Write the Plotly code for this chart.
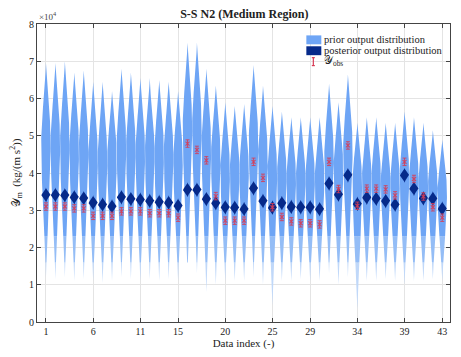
import numpy as np
import plotly.graph_objects as go

# ---------------- data (values in units of 1e4) ----------------
data_index = list(range(1, 44))
prior_top = [6.95, 6.95, 7.0, 6.7, 6.75, 6.45, 6.45, 6.2, 6.8, 6.7,
             6.55, 6.55, 6.5, 6.45, 6.2, 7.5, 7.5, 6.8, 6.35, 5.9,
             5.8, 5.85, 6.9, 6.35, 5.8, 5.65, 5.5, 5.5, 5.5, 5.5,
             6.4, 5.9, 6.65, 5.35, 5.5, 5.5, 5.35, 5.35, 5.65, 5.5,
             5.35, 5.15, 4.9]
prior_mode = [4.85, 4.85, 4.85, 4.7, 4.7, 4.45, 4.45, 4.45, 4.8, 4.7,
              4.6, 4.6, 4.6, 4.6, 4.4, 5.3, 5.3, 4.8, 4.5, 4.1,
              4.1, 4.1, 4.9, 4.5, 4.1, 4.0, 3.9, 3.9, 3.9, 3.9,
              4.5, 4.2, 4.7, 3.8, 3.9, 3.9, 3.8, 3.8, 4.0, 3.9,
              3.8, 3.7, 3.5]
prior_bottom = [1.2, 1.15, 1.2, 1.1, 1.15, 1.1, 1.05, 1.1, 1.2, 1.15,
                1.1, 1.15, 1.1, 1.15, 1.1, 1.3, 1.3, 0.8, 1.0, 1.1,
                1.1, 1.1, 1.2, 1.0, 0.45, 1.1, 1.1, 1.15, 1.1, 1.1,
                1.3, 1.0, 1.2, 0.35, 1.1, 1.1, 1.15, 1.1, 1.0, 1.1,
                1.1, 1.15, 1.1]
post_mean = [3.41, 3.41, 3.40, 3.35, 3.32, 3.20, 3.15, 3.10, 3.35, 3.30,
             3.28, 3.25, 3.22, 3.20, 3.12, 3.55, 3.55, 3.30, 3.19, 3.08,
             3.07, 3.03, 3.59, 3.25, 3.07, 3.19, 3.09, 3.08, 3.08, 3.03,
             3.72, 3.42, 3.94, 3.17, 3.34, 3.31, 3.25, 3.15, 3.94, 3.58,
             3.32, 3.31, 3.04]
obs_val = [3.10, 3.10, 3.10, 3.05, 3.05, 2.85, 2.85, 2.85, 2.97, 2.97,
           2.97, 2.92, 2.92, 2.92, 2.80, 4.79, 4.62, 4.34, 3.38, 2.72,
           2.72, 2.72, 4.30, 3.87, 3.08, 2.82, 2.70, 2.65, 2.65, 2.62,
           4.30, 3.57, 4.74, 3.12, 3.58, 3.58, 3.56, 3.40, 4.30, 3.84,
           3.37, 3.08, 2.80]
OBS_ERR = 0.1
xtick_vals = [1, 6, 11, 15, 20, 25, 29, 34, 39, 43]
ytick_vals = [0, 1, 2, 3, 4, 5, 6, 7, 8]
legend_labels = ["prior output distribution", "posterior output distribution",
                 "𝒴<sub>obs</sub>"]

# ---------------- styling ----------------
PRIOR_W = 0.5
POST_W = 0.52
POST_H = 0.2
C_PRIOR = "#6ea5f5"
C_PRIOR_FADE1 = "#94bdf6"
C_PRIOR_FADE2 = "#c0d8f9"
C_POST = "#062a8a"
C_OBS = "rgba(215,60,85,0.85)"
C_OBS_SOLID = "#d73c55"
FONT = "Liberation Serif, DejaVu Serif, serif"


def prior_halfwidth(y, b, m, t):
    out = np.zeros_like(y)
    up = y >= m
    su = (t - m) / 2.0
    gt = np.exp(-2.0)
    out[up] = PRIOR_W * (np.exp(-0.5 * ((y[up] - m) / su) ** 2) - gt) / (1 - gt)
    sl = (m - b) / 1.7
    gb = np.exp(-0.5 * 1.7 ** 2)
    out[~up] = PRIOR_W * (np.exp(-0.5 * ((y[~up] - m) / sl) ** 2) - gb) / (1 - gb)
    return np.clip(out, 0, None)


def band_paths(ylo_fn, yhi_fn):
    xs, ys = [], []
    for k, i in enumerate(data_index):
        b, m, t = prior_bottom[k], prior_mode[k], prior_top[k]
        lo, hi = ylo_fn(b, t), yhi_fn(b, t)
        if hi <= lo:
            continue
        yy = np.linspace(lo, hi, 60)
        w = prior_halfwidth(yy, b, m, t)
        xs += list(i + w) + list(i - w[::-1]) + [None]
        ys += list(yy) + list(yy[::-1]) + [None]
    return xs, ys


fig = go.Figure()

# prior violins (main body + faded lower tail)
bands = [
    (lambda b, t: b, lambda b, t: min(1.6, t), C_PRIOR_FADE2),
    (lambda b, t: max(b, 1.6), lambda b, t: min(2.3, t), C_PRIOR_FADE1),
    (lambda b, t: max(b, 2.3), lambda b, t: t, C_PRIOR),
]
for lo_fn, hi_fn, col in bands:
    xs, ys = band_paths(lo_fn, hi_fn)
    fig.add_trace(go.Scatter(x=xs, y=ys, mode="lines", fill="toself",
                             fillcolor=col, line=dict(width=0, color=col),
                             hoverinfo="skip", showlegend=False))

# posterior violins
xs, ys = [], []
for k, i in enumerate(data_index):
    m = post_mean[k]
    yy = np.linspace(m - POST_H, m + POST_H, 41)
    w = POST_W * np.clip(1 - np.abs(yy - m) / POST_H, 0, None) ** 1.4
    xs += list(i + w) + list(i - w[::-1]) + [None]
    ys += list(yy) + list(yy[::-1]) + [None]
fig.add_trace(go.Scatter(x=xs, y=ys, mode="lines", fill="toself",
                         fillcolor=C_POST, line=dict(width=0, color=C_POST),
                         hoverinfo="skip", showlegend=False))

# observations
fig.add_trace(go.Scatter(
    x=data_index, y=obs_val, mode="markers",
    marker=dict(symbol="x-thin", size=4, line=dict(width=1.2, color=C_OBS), color=C_OBS),
    error_y=dict(type="constant", value=OBS_ERR, color=C_OBS, thickness=1, width=2),
    showlegend=False))

axis_common = dict(showline=True, linecolor="#444", linewidth=1, mirror="ticks",
                   ticks="inside", ticklen=4, tickcolor="#444",
                   showgrid=True, gridcolor="#e4e4e4", gridwidth=1, zeroline=False,
                   tickfont=dict(family=FONT, size=10, color="#222"))


# custom compact legend (paper coords)
def px_x(p):
    return (p - 37) / 414.0


def px_y(p):
    return (325 - p) / 301.0


row_y = [40, 51, 62]
shapes = []
for py, col in zip(row_y[:2], [C_PRIOR, C_POST]):
    shapes.append(dict(type="rect", xref="paper", yref="paper",
                       x0=px_x(307), x1=px_x(322), y0=px_y(py + 4.5), y1=px_y(py - 4.5),
                       fillcolor=col, line=dict(width=0)))
ox, oy = 314, row_y[2]
shapes += [
    dict(type="line", xref="paper", yref="paper", x0=px_x(ox), x1=px_x(ox),
         y0=px_y(oy + 4), y1=px_y(oy - 4), line=dict(color=C_OBS_SOLID, width=1.2)),
    dict(type="line", xref="paper", yref="paper", x0=px_x(ox - 1.5), x1=px_x(ox + 1.5),
         y0=px_y(oy + 4), y1=px_y(oy + 4), line=dict(color=C_OBS_SOLID, width=1.2)),
    dict(type="line", xref="paper", yref="paper", x0=px_x(ox - 1.5), x1=px_x(ox + 1.5),
         y0=px_y(oy - 4), y1=px_y(oy - 4), line=dict(color=C_OBS_SOLID, width=1.2)),
]
annotations = [dict(text=lab, x=px_x(323), y=px_y(py), xref="paper", yref="paper",
                    xanchor="left", yanchor="middle", showarrow=False,
                    font=dict(family=FONT, size=10.5, color="#222"))
               for lab, py in zip(legend_labels, row_y)]
annotations.append(dict(text="×10<sup>4</sup>", x=0, y=1.0, xref="paper", yref="paper",
                        xanchor="left", yanchor="bottom", showarrow=False,
                        font=dict(family=FONT, size=9, color="#444")))

fig.update_layout(
    width=461, height=357,
    margin=dict(l=37, r=10, t=24, b=32),
    paper_bgcolor="white", plot_bgcolor="white",
    font=dict(family=FONT, color="#222"),
    showlegend=False,
    title=dict(text="<b>S-S N2 (Medium Region)</b>", x=0.53, xanchor="center",
               y=0.96, yanchor="middle", font=dict(family=FONT, size=12, color="#222")),
    xaxis=dict(range=[0.05, 43.82], tickvals=xtick_vals, **axis_common,
               title=dict(text="Data index (-)", standoff=2,
                          font=dict(family=FONT, size=11, color="#222"))),
    yaxis=dict(range=[0, 8], tickvals=ytick_vals, **axis_common,
               title=dict(text="𝒴<sub>m</sub>  (kg/(m s<sup>2</sup>))", standoff=6,
                          font=dict(family=FONT, size=11, color="#222"))),
    shapes=shapes,
    annotations=annotations,
)

fig.write_html("out.html",
               config={"displayModeBar": False},
               post_script="document.body.style.margin='0px';"
                           "document.body.style.overflow='hidden';")
